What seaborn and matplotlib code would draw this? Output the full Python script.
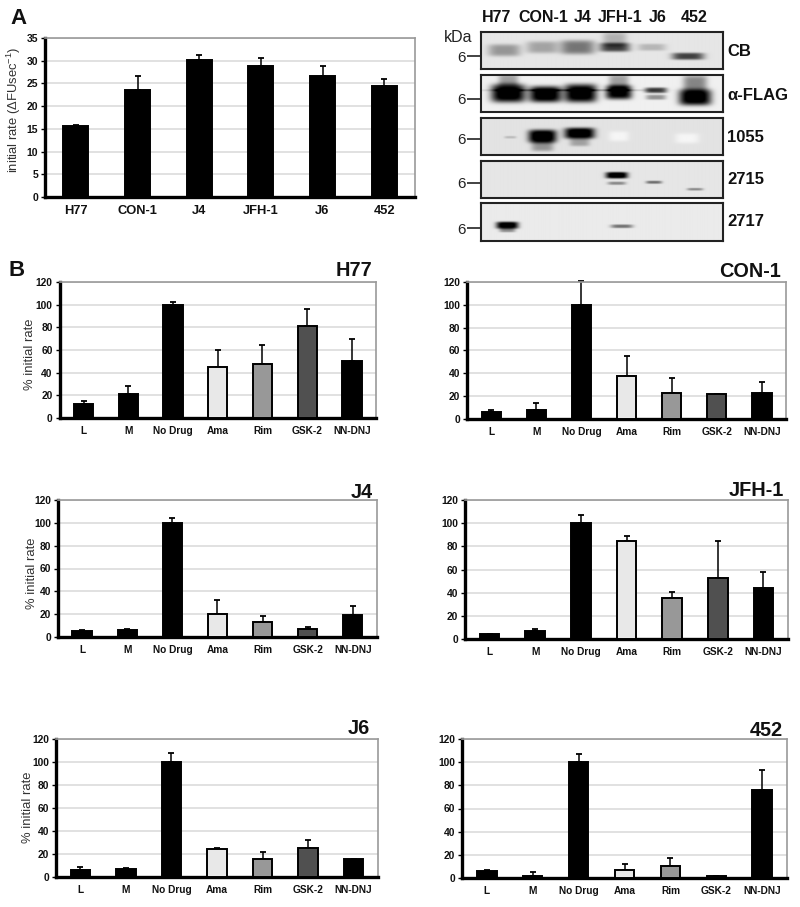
import numpy as np
import pandas as pd
import matplotlib
matplotlib.use('Agg')
import matplotlib.pyplot as plt
import seaborn as sns

# panel A
strains = ['H77', 'CON-1', 'J4', 'JFH-1', 'J6', '452']
rate = [15.6, 23.5, 30.1, 28.8, 26.7, 24.4]
rate_err = [0.3, 3.1, 1.1, 1.9, 2.2, 1.5]

# panel B
drugs = ['L', 'M', 'No Drug', 'Ama', 'Rim', 'GSK-2', 'NN-DNJ']
h77 = [12, 21, 100, 45, 48, 81, 50]
h77_err = [3, 7, 2, 15, 16, 15, 20]
con1 = [6, 8, 100, 38, 22.5, 21.5, 22.5]
con1_err = [2, 6, 21, 17, 13.5, 0.5, 9.5]
j4 = [5.5, 6, 100, 20, 13, 7, 19]
j4_err = [0.5, 1, 4, 12, 5, 1.5, 8]
jfh1 = [4, 7, 100, 85, 35, 53, 44]
jfh1_err = [0, 2, 7, 4, 6, 32, 14]
j6 = [6, 7, 100, 24, 16, 25, 16]
j6_err = [3, 1, 8, 1, 6, 7, 0]
s452 = [6, 2, 100, 7, 10, 1.5, 76]
s452_err = [0.5, 3, 7, 5, 7, 0.5, 17]
drug_colors = ['black', 'black', 'black', '#e8e8e8', '#989898', '#505050', 'black']

# western blots: name, background grey, 6 kDa mark, bands (x, y, half width, half height, darkness)
blot_names = ['CB', 'α-FLAG', '1055', '2715', '2717']
blot_bg = [0.90, 0.94, 0.89, 0.90, 0.92]
blot_mark = [24, 24, 21, 22, 25]
blot_bands = [
    [(23, 18, 16, 6, .30), (61, 15, 16, 6, .25), (96, 15, 17, 7, .42), (133, 15, 15, 4.5, .62), (133, 7, 12, 7, .2),
     (170, 15, 14, 3.5, .18), (206, 24, 16, 3.5, .62)],
    [(27, 18, 17, 9, 1), (27, 5, 10, 6, .3), (64, 19, 16, 8, 1), (99, 18, 16, 9, 1), (137, 17, 13, 7, .95),
     (137, 6, 10, 7, .3), (174, 15, 11, 2.8, .65), (174, 22, 10, 2.5, .35), (213, 22, 16, 8, 1), (213, 8, 12, 8, .4),
     (85, 15, 80, 1, .25)],
    [(29, 19, 6, 1.3, .15), (61, 18, 14, 6.5, 1), (61, 28, 11, 5, .3), (98, 15, 15, 5.5, 1), (98, 24, 10, 4, .25),
     (137, 18, 10, 5, -.07), (205, 20, 12, 5, -.07)],
    [(135, 14, 11, 3.2, 1), (135, 22, 9, 1.6, .35), (172, 21, 8, 1.5, .45), (213, 28, 8, 1.3, .35)],
    [(26, 22, 11, 3.5, 1), (26, 27, 8, 2, .35), (140, 23, 11, 1.8, .45)],
]

sns.set_theme(style='white')
plt.rcParams['font.family'] = ['Liberation Sans', 'DejaVu Sans']
plt.rcParams['mathtext.default'] = 'regular'

W, H = 800, 907
fig = plt.figure(figsize=(W / 100, H / 100), dpi=100)


def px_axes(x0, x1, ytop, ybot):
    return fig.add_axes([x0 / W, 1 - ybot / H, (x1 - x0) / W, (ybot - ytop) / H])


def px_text(x, y, s, **kw):
    fig.text(x / W, 1 - y / H, s, va='center', **kw)


def bar_panel(rect, cats, vals, errs, colors, ymax, step, width, xsize, ysize, ylabel=None, label_xy=None):
    ax = px_axes(*rect)
    df = pd.DataFrame({'cat': cats, 'val': vals})
    sns.barplot(data=df, x='cat', y='val', hue='cat', palette=dict(zip(cats, colors)), width=width,
                edgecolor='black', linewidth=1.4, legend=False, ax=ax, zorder=3)
    ax.errorbar(range(len(cats)), vals, yerr=[np.zeros(len(errs)), errs], fmt='none', ecolor='black',
                elinewidth=1.1, capsize=2.5, capthick=1.3, clip_on=False, zorder=2)
    ax.set_ylim(0, ymax)
    ax.set_yticks(np.arange(0, ymax + 1, step))
    ax.set_xlabel('')
    ax.set_ylabel('')
    ax.yaxis.grid(True, color='#dcdcdc', lw=1.2)
    ax.xaxis.grid(False)
    ax.set_axisbelow(True)
    for s in ['top', 'right']:
        ax.spines[s].set_color('#9a9a9a')
        ax.spines[s].set_linewidth(1.2)
    ax.spines['left'].set_color('black')
    ax.spines['left'].set_linewidth(2.4)
    ax.spines['bottom'].set_color('black')
    ax.spines['bottom'].set_linewidth(2.4)
    ax.set_xticks(np.arange(-0.5, len(cats), 1), minor=True)
    ax.tick_params(axis='x', which='major', length=0, pad=6, labelsize=xsize, labelcolor='#111111')
    ax.tick_params(axis='x', which='minor', length=2, width=1, color='black')
    ax.tick_params(axis='y', length=3, width=1, color='black', pad=2, labelsize=ysize, labelcolor='#111111', left=True)
    for t in ax.get_xticklabels() + ax.get_yticklabels():
        t.set_fontweight('bold')
    if ylabel:
        ax.set_ylabel(ylabel, fontsize=9.4, color='#333333')
        ax.yaxis.set_label_coords((label_xy[0] - rect[0]) / (rect[1] - rect[0]),
                                  (rect[3] - label_xy[1]) / (rect[3] - rect[2]))
    return ax


# panel A chart
bar_panel((45, 415, 38, 197), strains, rate, rate_err, ['black'] * 6, 35, 5, 0.41, 9.3, 7.5,
          ylabel='initial rate (ΔFUsec$^{-1}$)', label_xy=(23, 110))

# blots
bx0, bx1 = 481, 723
blot_tops = [32, 75, 118, 161, 203]
blot_bots = [69, 112, 155, 198, 241]
label_y = [52, 95, 137, 179, 222]
for name, bg, mark, bands, top, bot, ly in zip(blot_names, blot_bg, blot_mark, blot_bands, blot_tops, blot_bots, label_y):
    ax = px_axes(bx0, bx1, top, bot)
    xx, yy = np.meshgrid(np.arange(0, bx1 - bx0, 0.5), np.arange(0, bot - top, 0.5))
    dark = np.zeros_like(xx)
    for cx, cy, hw, hh, d in bands:
        dark += d * np.exp(-((xx - cx) / hw) ** 4 - ((yy - cy) / hh) ** 4)
    img = np.clip(bg - dark * 1.05, 0, 1)
    ax.imshow(img, cmap='gray', vmin=0, vmax=1, extent=(0, bx1 - bx0, bot - top, 0), aspect='auto',
              interpolation='bilinear')
    ax.set_xticks([])
    ax.set_yticks([mark])
    ax.set_yticklabels(['6'], fontsize=11, color='#222222')
    ax.tick_params(axis='y', length=10, width=1.2, color='#222222', pad=1, left=True)
    for s in ax.spines.values():
        s.set_color('#222222')
        s.set_linewidth(1.5)
    px_text(727, ly, name, ha='left', fontsize=12, fontweight='bold', color='#111111')

for lab, x in zip(strains, [497, 543, 583, 620, 658, 694]):
    px_text(x, 17, lab, ha='center', fontsize=11.5, fontweight='bold', color='#111111')
px_text(444, 38, 'kDa', ha='left', fontsize=11.5, color='#222222')

# panel B charts
rects = [(59.5, 376, 282, 418), (467, 786, 282, 419), (58, 377, 500, 637),
         (465, 788, 500, 639), (56, 378, 739, 877), (462, 787, 739, 878)]
series = [(h77, h77_err, 'H77', 372, 271), (con1, con1_err, 'CON-1', 781, 272), (j4, j4_err, 'J4', 373, 492),
          (jfh1, jfh1_err, 'JFH-1', 784, 491), (j6, j6_err, 'J6', 370, 729), (s452, s452_err, '452', 783, 730)]
label_pos = [(36, 354), None, (38, 573), None, (34, 807), None]
for rect, (vals, errs, title, tx, ty), lp in zip(rects, series, label_pos):
    bar_panel(rect, drugs, vals, errs, drug_colors, 120, 20, 0.43, 7.3, 7.4,
              ylabel='% initial rate' if lp else None, label_xy=lp)
    px_text(tx, ty, title, ha='right', fontsize=14.3, fontweight='bold', color='#111111')

px_text(10, 18, 'A', ha='left', fontsize=16, fontweight='bold', color='#111111')
px_text(8, 271, 'B', ha='left', fontsize=16, fontweight='bold', color='#111111')

fig.savefig('out.png', dpi=100)
